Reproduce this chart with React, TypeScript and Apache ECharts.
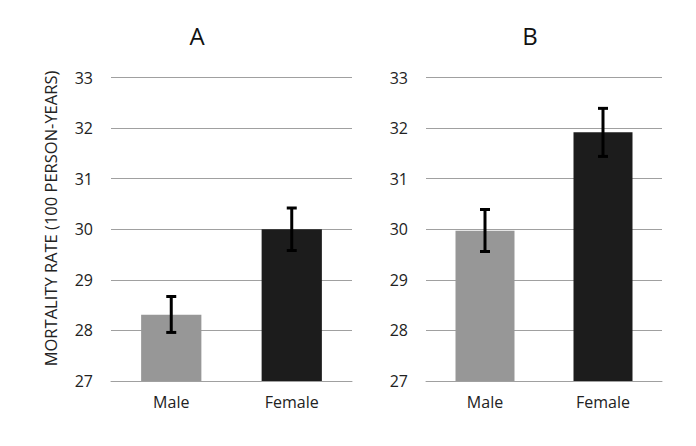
import React, { useEffect, useRef } from "react";
import * as echarts from "echarts";

const categories = ["Male", "Female"];
const panelTitles = ["A", "B"];
const valuesA = [28.31, 30.0];
const errLowA = [27.96, 29.58];
const errHighA = [28.67, 30.42];
const valuesB = [29.97, 31.92];
const errLowB = [29.56, 31.44];
const errHighB = [30.39, 32.39];
const barColors = ["#979797", "#1c1c1c"];
const yMin = 27;
const yMax = 33;
const yInterval = 1;
const yTitle = "MORTALITY RATE (100 PERSON-YEARS)";

const FONT = "'Open Sans', sans-serif";

export default function App() {
  const ref = useRef<HTMLDivElement>(null);
  useEffect(() => {
    if (!ref.current) return;
    const chart = echarts.init(ref.current, undefined, { renderer: "svg" });
    const grids = [
      { left: 111, top: 77.5, width: 241, height: 303.5 },
      { left: 426, top: 77.5, width: 236, height: 303.5 },
    ];
    const xAxes = grids.map((_, i) => ({
      type: "category" as const,
      gridIndex: i,
      data: categories,
      axisLine: { show: true, lineStyle: { color: "#a0a0a0", width: 1 } },
      axisTick: { show: false },
      axisLabel: { fontSize: 16, color: "#222", fontFamily: FONT, margin: 13 },
    }));
    const yAxes = grids.map((_, i) => ({
      type: "value" as const,
      gridIndex: i,
      min: yMin,
      max: yMax,
      interval: yInterval,
      axisLine: { show: false },
      axisTick: { show: false },
      splitLine: { show: true, lineStyle: { color: "#a0a0a0", width: 1 } },
      axisLabel: { fontSize: 16, color: "#222", fontFamily: FONT, margin: 18 },
    }));
    const values = [valuesA, valuesB];
    const lows = [errLowA, errLowB];
    const highs = [errHighA, errHighB];
    const series: any[] = [];
    values.forEach((vals, i) => {
      series.push({
        type: "bar",
        xAxisIndex: i,
        yAxisIndex: i,
        barWidth: "50%",
        data: vals.map((v, j) => ({ value: v, itemStyle: { color: barColors[j] } })),
      });
      series.push({
        type: "custom",
        xAxisIndex: i,
        yAxisIndex: i,
        data: categories.map((_, j) => [j, lows[i][j], highs[i][j]]),
        renderItem: (params: any, api: any) => {
          const x = api.value(0);
          const lo = api.coord([x, api.value(1)]);
          const hi = api.coord([x, api.value(2)]);
          const hw = 5;
          const style = { stroke: "#000", lineWidth: 3 };
          return {
            type: "group",
            children: [
              { type: "line", shape: { x1: lo[0], y1: lo[1], x2: hi[0], y2: hi[1] }, style },
              { type: "line", shape: { x1: hi[0] - hw, y1: hi[1], x2: hi[0] + hw, y2: hi[1] }, style },
              { type: "line", shape: { x1: lo[0] - hw, y1: lo[1], x2: lo[0] + hw, y2: lo[1] }, style },
            ],
          };
        },
        z: 10,
      });
    });
    chart.setOption({
      animation: false,
      backgroundColor: "#fff",
      grid: grids,
      xAxis: xAxes,
      yAxis: yAxes,
      series,
      graphic: [
        {
          type: "text",
          x: 197,
          y: 35.5,
          style: { text: panelTitles[0], fontSize: 24, fill: "#111", fontFamily: FONT, textAlign: "center", textVerticalAlign: "middle" },
        },
        {
          type: "text",
          x: 530,
          y: 35.5,
          style: { text: panelTitles[1], fontSize: 24, fill: "#111", fontFamily: FONT, textAlign: "center", textVerticalAlign: "middle" },
        },
        {
          type: "text",
          x: 50.5,
          y: 218.5,
          rotation: Math.PI / 2,
          style: { text: yTitle, fontSize: 16.5, fill: "#222", fontFamily: FONT, textAlign: "center", textVerticalAlign: "middle" },
        },
      ],
    });
    return () => chart.dispose();
  }, []);
  return <div ref={ref} style={{ width: 696, height: 446, position: "absolute", left: 0, top: 0 }} />;
}
